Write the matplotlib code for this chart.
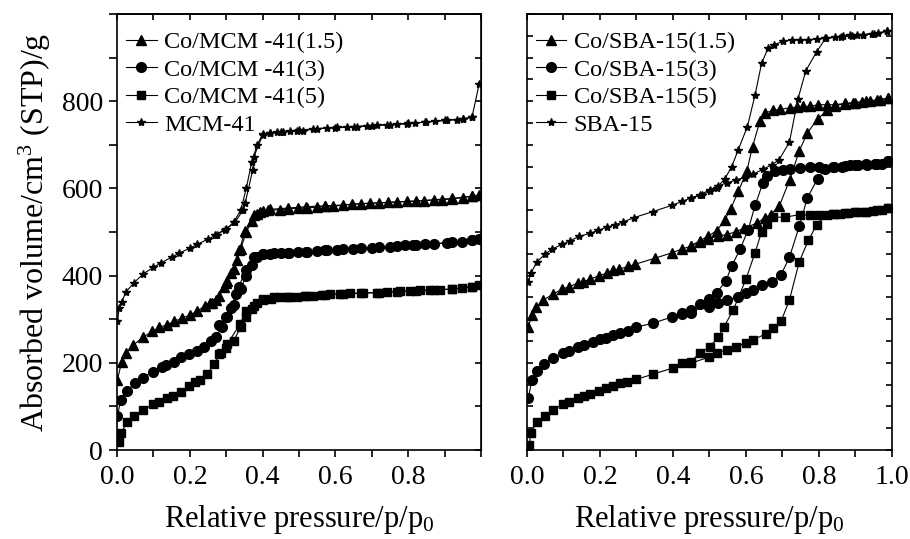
import matplotlib
matplotlib.use("Agg")
import matplotlib.pyplot as plt
from matplotlib.ticker import MultipleLocator

plt.rcParams['font.family'] = ['Liberation Serif', 'DejaVu Serif']
plt.rcParams['mathtext.fontset'] = 'custom'
plt.rcParams['mathtext.rm'] = 'Liberation Serif'
plt.rcParams['mathtext.it'] = 'Liberation Serif:italic'

# ---- left panel: MCM-41 series (adsorption / desorption branches) ----
mcm_labels = ["Co/MCM -41(1.5)", "Co/MCM -41(3)", "Co/MCM -41(5)", "MCM-41"]

mcm15_ads_x = [.001, .013, .025, .045, .072, .097, .116, .136, .157, .178, .201, .221, .242, .255, .272,
               .295, .301, .312, .329, .336, .352, .376, .393, .416, .448, .471, .498, .521, .549, .571,
               .594, .645, .695, .745, .796, .842, .892, .919, .951, .975, .995]
mcm15_ads_y = [161, 203, 223, 241, 259, 272, 281, 287, 295, 302, 310, 319, 331, 337, 344,
               373, 388, 406, 436, 458, 503, 540, 547, 550, 551, 553, 555, 555, 557, 559,
               559, 564, 566, 568, 570, 572, 574, 576, 579, 582, 585]
mcm15_des_x = [.975, .92, .87, .82, .77, .72, .67, .62, .57, .52, .47, .42, .40, .385, .37, .355, .34, .32, .30, .28, .26]
mcm15_des_y = [582, 577, 574, 571, 569, 567, 565, 562, 560, 558, 555, 552, 549, 541, 525, 500, 462, 415, 382, 353, 338]

mcm3_ads_x = [.001, .010, .028, .049, .071, .098, .123, .134, .157, .175, .198, .221, .240, .258, .272,
              .288, .301, .312, .327, .335, .354, .376, .40, .42, .45, .473, .498, .521, .549, .576,
              .604, .649, .70, .75, .791, .814, .846, .906, .947, .975, .995]
mcm3_ads_y = [77, 115, 136, 153, 166, 180, 191, 195, 203, 213, 220, 227, 237, 249, 260,
              283, 304, 325, 358, 375, 413, 442, 449, 450, 452, 452, 454, 455, 457, 459,
              459, 462, 464, 465, 470, 470, 472, 475, 477, 481, 485]
mcm3_des_x = [.975, .92, .87, .82, .77, .72, .67, .62, .57, .52, .47, .43, .40, .385, .37, .355, .34, .32, .30, .28]
mcm3_des_y = [481, 476, 473, 470, 467, 465, 463, 460, 458, 455, 453, 451, 449, 443, 425, 400, 370, 332, 306, 286]

mcm5_ads_x = [.005, .011, .027, .047, .072, .098, .116, .138, .153, .176, .199, .214, .228, .248, .266,
              .286, .303, .338, .354, .376, .40, .423, .448, .472, .494, .516, .539, .562, .585, .613,
              .640, .677, .713, .741, .777, .805, .832, .860, .887, .919, .947, .975, .995]
mcm5_ads_y = [19, 38, 64, 78, 92, 105, 111, 119, 125, 132, 147, 155, 160, 174, 197,
              223, 243, 289, 319, 331, 343, 347, 350, 351, 352, 354, 354, 356, 357, 358,
              359, 360, 361, 363, 364, 365, 366, 367, 368, 369, 371, 375, 378]
mcm5_des_x = [.975, .92, .87, .82, .77, .72, .67, .62, .57, .52, .47, .43, .40, .385, .37, .355, .34, .32, .30, .28]
mcm5_des_y = [375, 369, 367, 365, 363, 361, 360, 358, 356, 354, 352, 350, 346, 338, 324, 305, 282, 250, 234, 221]

mcm_ads_x = [.001, .006, .013, .025, .047, .072, .10, .12, .15, .171, .201, .221, .251, .274, .297,
             .324, .347, .352, .373, .376, .40, .42, .439, .457, .475, .494, .512, .539, .576, .604,
             .631, .658, .686, .713, .741, .768, .796, .819, .846, .874, .906, .933, .951, .975, .995]
mcm_ads_y = [295, 325, 340, 363, 384, 404, 419, 429, 442, 452, 463, 472, 484, 494, 505,
             522, 551, 566, 643, 673, 722, 727, 729, 730, 731, 732, 732, 736, 739, 740,
             741, 742, 744, 745, 746, 748, 748, 750, 752, 754, 756, 758, 759, 763, 840]
mcm_des_x = [.975, .95, .90, .85, .80, .75, .70, .65, .60, .55, .50, .45, .42, .40, .385, .37, .355, .34, .32, .30, .27]
mcm_des_y = [763, 760, 756, 752, 749, 746, 744, 741, 739, 737, 734, 730, 727, 724, 700, 660, 600, 550, 522, 507, 494]

# ---- right panel: SBA-15 series ----
sba_labels = ["Co/SBA-15(1.5)", "Co/SBA-15(3)", "Co/SBA-15(5)", "SBA-15"]

sba15_ads_x = [.004, .013, .025, .045, .072, .097, .116, .141, .153, .174, .198, .22, .236, .253, .278,
               .296, .351, .396, .424, .448, .474, .497, .522, .547, .573, .595, .629, .652, .668, .691,
               .72, .746, .768, .796, .823, .844, .871, .894, .917, .940, .967, .99]
sba15_ads_y = [282, 310, 328, 344, 358, 369, 375, 383, 386, 392, 400, 406, 412, 415, 421,
               426, 440, 452, 461, 467, 478, 484, 491, 494, 501, 509, 520, 533, 540, 559,
               620, 686, 727, 759, 779, 790, 794, 796, 798, 800, 803, 807]
sba15_des_x = [.99, .96, .93, .90, .87, .845, .821, .798, .775, .757, .739, .72, .693, .675, .652,
               .638, .618, .602, .579, .558, .542, .52, .497, .474, .448]
sba15_des_y = [807, 803, 800, 797, 795, 792, 792, 792, 788, 788, 786, 785, 781, 779, 773,
               754, 696, 639, 593, 553, 528, 503, 491, 480, 468]

sba3_ads_x = [.004, .013, .028, .047, .072, .098, .116, .141, .156, .18, .20, .216, .236, .255, .278,
              .30, .346, .396, .424, .448, .50, .524, .547, .579, .60, .62, .645, .670, .696, .719,
              .746, .768, .796, .816, .839, .862, .885, .908, .931, .953, .972, .99]
sba3_ads_y = [119, 161, 182, 197, 212, 223, 228, 237, 241, 248, 255, 258, 264, 268, 273,
              282, 291, 305, 314, 320, 328, 338, 344, 351, 360, 367, 379, 386, 402, 442,
              513, 578, 622, 645, 650, 650, 653, 653, 654, 656, 657, 662]
sba3_des_x = [.99, .96, .93, .90, .87, .84, .80, .775, .748, .72, .702, .679, .657, .646, .625,
              .606, .584, .561, .545, .52, .499, .474, .448, .424]
sba3_des_y = [662, 657, 655, 653, 652, 650, 649, 648, 647, 645, 643, 639, 629, 612, 561,
              505, 461, 422, 388, 361, 346, 335, 315, 312]

sba5_ads_x = [.006, .011, .028, .049, .072, .098, .116, .141, .156, .174, .197, .216, .235, .255, .275,
              .299, .346, .399, .448, .499, .520, .549, .573, .60, .618, .655, .673, .696, .719, .746,
              .771, .794, .821, .839, .858, .880, .903, .926, .949, .972, .99]
sba5_ads_y = [11, 40, 65, 78, 92, 106, 111, 119, 124, 129, 135, 142, 147, 153, 157,
              162, 174, 188, 199, 213, 222, 230, 237, 246, 253, 266, 279, 295, 344, 432,
              481, 517, 540, 541, 542, 543, 545, 547, 549, 551, 555]
sba5_des_x = [.99, .96, .93, .90, .87, .84, .80, .775, .748, .707, .675, .657, .643, .625, .60,
              .565, .540, .524, .501, .474, .448, .424]
sba5_des_y = [555, 550, 547, 545, 543, 541, 540, 538, 540, 534, 534, 518, 501, 453, 392,
              321, 283, 259, 237, 222, 203, 199]

sba_ads_x = [.004, .011, .027, .049, .069, .097, .118, .143, .173, .195, .22, .241, .264, .293, .346,
             .396, .425, .448, .474, .501, .524, .547, .574, .597, .62, .647, .670, .691, .719, .742,
             .764, .794, .818, .844, .865, .885, .903, .921, .944, .962, .985]
sba_ads_y = [385, 406, 431, 449, 461, 472, 480, 490, 497, 504, 511, 517, 523, 533, 547,
             561, 570, 578, 585, 597, 606, 612, 620, 625, 633, 644, 654, 666, 706, 804,
             870, 914, 944, 947, 949, 951, 951, 953, 954, 957, 960]
sba_des_x = [.985, .95, .92, .89, .86, .816, .794, .771, .748, .725, .702, .677, .661, .643, .625,
             .604, .579, .561, .542, .52, .501, .479, .45]
sba_des_y = [960, 955, 952, 950, 948, 944, 943, 941, 941, 940, 937, 930, 922, 888, 815,
             742, 689, 650, 622, 601, 593, 585, 578]

markers = ['^', 'o', 's', '*']
msizes = [7.5, 7, 6, 6]

left_series = [(mcm15_ads_x, mcm15_ads_y, mcm15_des_x, mcm15_des_y),
               (mcm3_ads_x, mcm3_ads_y, mcm3_des_x, mcm3_des_y),
               (mcm5_ads_x, mcm5_ads_y, mcm5_des_x, mcm5_des_y),
               (mcm_ads_x, mcm_ads_y, mcm_des_x, mcm_des_y)]
right_series = [(sba15_ads_x, sba15_ads_y, sba15_des_x, sba15_des_y),
                (sba3_ads_x, sba3_ads_y, sba3_des_x, sba3_des_y),
                (sba5_ads_x, sba5_ads_y, sba5_des_x, sba5_des_y),
                (sba_ads_x, sba_ads_y, sba_des_x, sba_des_y)]

fig = plt.figure(figsize=(9.1, 5.39), dpi=100)
ax1 = fig.add_axes([0.1286, 0.1651, 0.4, 0.8089])
ax2 = fig.add_axes([0.5791, 0.1651, 0.4011, 0.8089])


def draw(ax, series, labels):
    for (ax_, ay_, dx_, dy_), lab, m, ms in zip(series, labels, markers, msizes):
        ax.plot(ax_, ay_, color='black', lw=0.8, marker=m, ms=ms, label=lab)
        ax.plot(dx_, dy_, color='black', lw=0.8, marker=m, ms=ms)
    ax.set_xlim(0, 1.0)
    ax.set_ylim(0, 1000)
    for s in ax.spines.values():
        s.set_linewidth(1.2)
    ax.xaxis.set_major_locator(MultipleLocator(0.2))
    ax.xaxis.set_minor_locator(MultipleLocator(0.1))
    ax.tick_params(axis='x', which='both', direction='out', top=False, labelsize=20, pad=6,
                   length=5, width=1.2)
    sec = ax.secondary_xaxis('top')
    sec.xaxis.set_major_locator(MultipleLocator(0.1))
    sec.tick_params(direction='in', length=4, width=1.2, labeltop=False)
    sec.spines['top'].set_linewidth(1.2)
    ax.set_xlabel('Relative pressure/p/p$_0$', fontsize=22, labelpad=9)
    ax.legend(loc='upper left', bbox_to_anchor=(0.025, 0.96), frameon=False, fontsize=17.5,
              handlelength=1.25, handletextpad=0.3, labelspacing=0.22, borderaxespad=0,
              borderpad=0)


draw(ax1, left_series, mcm_labels)
draw(ax2, right_series, sba_labels)

ax1.set_xticks([0, 0.2, 0.4, 0.6, 0.8, 1.0], ['0.0', '0.2', '0.4', '0.6', '0.8', ''])
ax1.yaxis.set_minor_locator(MultipleLocator(100))
ax1.tick_params(axis='y', which='both', direction='out', length=6, width=1.2, labelsize=20, pad=4)
ax1.set_yticks([0, 200, 400, 600, 800], ['0', '200', '400', '600', '800'])
sy = ax1.secondary_yaxis('right')
sy.yaxis.set_major_locator(MultipleLocator(100))
sy.tick_params(direction='in', length=4, width=1.2, labelright=False)
ax1.set_ylabel('Absorbed volume/cm$^3$ (STP)/g', fontsize=23, labelpad=6)

ax2.set_xticks([0, 0.2, 0.4, 0.6, 0.8, 1.0], ['0.0', '0.2', '0.4', '0.6', '0.8', '1.0'])
ax2.yaxis.set_major_locator(MultipleLocator(50))
ax2.tick_params(axis='y', which='both', direction='in', length=4, width=1.2, labelleft=False, right=True)

fig.savefig('out.png', dpi=100)
